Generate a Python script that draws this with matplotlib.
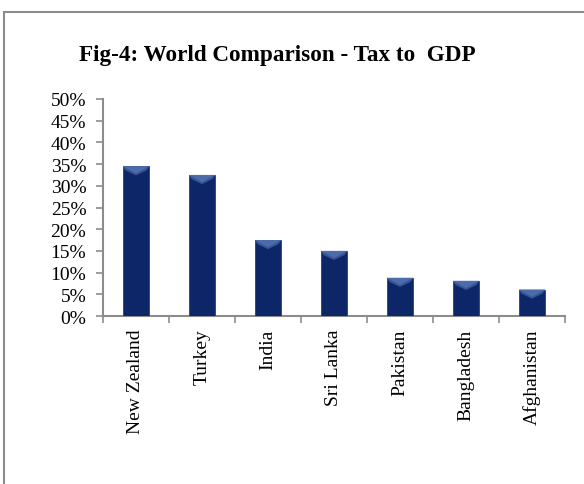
import matplotlib.pyplot as plt
from matplotlib.patches import Rectangle, Polygon
import numpy as np

countries = ['New Zealand', 'Turkey', 'India', 'Sri Lanka', 'Pakistan', 'Bangladesh', 'Afghanistan']
tax_to_gdp = [34.5, 32.5, 17.5, 15.0, 8.8, 8.1, 6.1]

fig = plt.figure(figsize=(5.84, 4.85), dpi=100)

# chart frame (only top/left edges fall inside the canvas)
fig.patches.append(Rectangle((3.5 / 584, -0.1), 1.2, 1.1 - 12.5 / 485, transform=fig.transFigure,
                             fill=False, edgecolor='#8c8c8c', linewidth=1.5))

ax = fig.add_axes([103 / 584, 1 - 317 / 485, (565 - 103) / 584, (317 - 100) / 485])

x = np.arange(len(countries))
width = 0.4
bars = ax.bar(x, tax_to_gdp, width=width, color='#0c2668', edgecolor='#2a3f78', linewidth=0.6, zorder=3)

# bevel highlight on top of each bar
for b in bars:
    x0 = b.get_x()
    x1 = x0 + b.get_width()
    top = b.get_height()
    depth = 2.1
    ax.add_patch(Polygon([(x0, top), (x1, top), (x1 - 0.04, top - depth * 0.45),
                          ((x0 + x1) / 2, top - depth), (x0 + 0.04, top - depth * 0.45)],
                         closed=True, facecolor='#3f5e9e', edgecolor='none', alpha=0.85, zorder=4))
    ax.add_patch(Polygon([(x0, top), (x1, top), ((x0 + x1) / 2, top - depth * 0.8)],
                         closed=True, facecolor='#5a7ab8', edgecolor='none', alpha=0.6, zorder=5))

ax.set_xlim(-0.5, len(countries) - 0.5)
ax.set_ylim(0, 50)
ax.set_yticks(np.arange(0, 51, 5))
ax.set_yticklabels([f'{v}%' for v in range(0, 51, 5)])

ax.set_xticks(np.arange(-0.5, len(countries), 1))
ax.set_xticklabels([])
ax.set_xticks(x, minor=True)
ax.set_xticklabels(countries, minor=True, rotation=90, va='top')
ax.tick_params(axis='x', which='minor', length=0, pad=9)
ax.tick_params(axis='x', which='major', length=5, color='#8c8c8c', width=1.2)
ax.tick_params(axis='y', length=5, color='#8c8c8c', width=1.2, pad=7)

for lab in ax.get_yticklabels() + ax.get_xticklabels(minor=True):
    lab.set_fontfamily('Liberation Serif')
    lab.set_fontsize(14)

for side in ['top', 'right']:
    ax.spines[side].set_visible(False)
for side in ['left', 'bottom']:
    ax.spines[side].set_color('#8c8c8c')
    ax.spines[side].set_linewidth(1.5)

fig.text(277 / 584, 1 - 55 / 485, 'Fig-4: World Comparison - Tax to  GDP', ha='center', va='center',
         fontfamily='Liberation Serif', fontweight='bold', fontsize=16.7)

fig.savefig('out.png', dpi=100)
